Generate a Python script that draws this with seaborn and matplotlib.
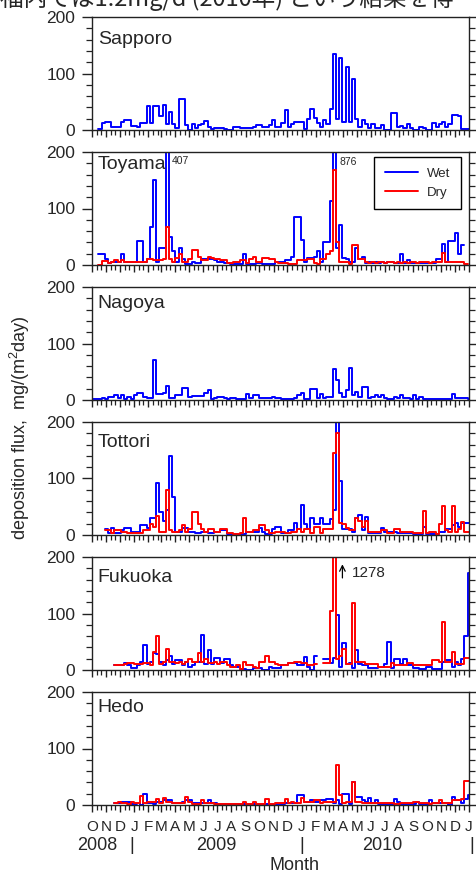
import numpy as np
import pandas as pd
import seaborn as sns
import matplotlib.pyplot as plt
import matplotlib.dates as mdates
from matplotlib.ticker import MultipleLocator, FuncFormatter
from matplotlib.lines import Line2D

nan = np.nan

# weekly deposition flux, mg/(m2 day), one value per week starting 2008-10-01
stations = ['Sapporo', 'Toyama', 'Nagoya', 'Tottori', 'Fukuoka', 'Hedo']

sapporo_wet = [nan, nan, 2, 12, 14, 14, 5, 5, 5, 14,
               17, 17, 7, 7, 5, 12, 12, 42, 12, 43,
               43, 25, 45, 10, 32, 10, 3, 55, 55, 8,
               0, 10, 3, 8, 10, 16, 5, 2, 3, 3,
               3, 1, 0, 0, 6, 6, 3, 3, 3, 3,
               5, 8, 8, 5, 5, 8, 18, 5, 5, 13,
               35, 5, 10, 15, 15, 15, 1, 20, 37, 22,
               12, 5, 17, 10, 38, 134, 20, 127, 15, 111,
               15, 91, 20, 5, 17, 10, 3, 10, 3, 3,
               8, 0, 0, 30, 30, 5, 7, 3, 10, 3,
               0, 0, 5, 3, 0, 0, 12, 5, 10, 15,
               5, 10, 26, 26, 24, 1, 1, 1]

toyama_wet = [nan, nan, 20, 20, 10, 3, 5, 5, 5, 20,
              5, 5, 5, 5, 43, 43, 5, 10, 68, 150,
              5, 30, 30, 407, 50, 25, 5, 30, 10, 2,
              2, 5, 3, 3, 10, 10, 10, 10, 8, 5,
              5, 3, 3, 2, 2, 2, 2, 20, 2, 2,
              2, 3, 3, 1, 1, 1, 1, 5, 5, 5,
              8, 8, 15, 85, 85, 45, 5, 12, 12, 15,
              25, 5, 40, 40, 113, 876, 30, 70, 12, 10,
              5, 5, 30, 10, 15, 3, 5, 3, 5, 3,
              5, 3, 5, 5, 3, 3, 20, 3, 8, 3,
              3, 3, 3, 3, 3, 3, 3, 10, 10, 37,
              5, 43, 43, 57, 20, 35, nan, nan]

toyama_dry = [nan, nan, 0, 7, 7, 3, 5, 8, 5, 8,
              5, 5, 5, 5, 5, 5, 5, 10, 10, 8,
              8, 8, 10, 68, 10, 5, 12, 20, 5, 5,
              10, 27, 27, 15, 8, 8, 15, 12, 10, 10,
              8, 8, 3, 3, 5, 5, 8, 8, 3, 10,
              15, 5, 5, 12, 12, 10, 10, 5, 3, 3,
              3, 1, 1, 1, 8, 8, 8, 10, 10, 3,
              1, 10, 10, 20, 25, 168, 40, 5, 5, 5,
              2, 35, 35, 10, 10, 5, 3, 5, 4, 6,
              5, 3, 5, 6, 4, 5, 3, 5, 4, 6,
              5, 4, 6, 5, 6, 4, 5, 5, 5, 22,
              5, 5, 5, 6, 5, 5, 2, nan]

nagoya_wet = [2, 2, 1, 3, 2, 5, 5, 8, 3, 8,
              2, 5, 2, 8, 13, 13, 5, 3, 3, 70,
              10, 10, 12, 25, 3, 3, 8, 8, 22, 22,
              5, 7, 7, 7, 7, 12, 18, 2, 3, 5,
              5, 3, 2, 3, 3, 1, 1, 1, 10, 3,
              8, 8, 3, 3, 3, 3, 5, 3, 3, 2,
              2, 2, 2, 3, 8, 13, 1, 1, 20, 20,
              3, 10, 3, 5, 5, 55, 35, 12, 5, 18,
              57, 8, 15, 5, 23, 23, 3, 5, 8, 5,
              8, 3, 1, 1, 5, 3, 8, 3, 3, 2,
              8, 2, 5, 1, 1, 1, 2, 2, 2, 2,
              2, 2, 10, 3, 3, 3, 3, 2]

tottori_wet = [nan, nan, nan, nan, 10, 3, 12, 3, 3, 8,
               13, 13, 5, 5, 5, 18, 18, 12, 30, 30,
               92, 40, 25, 45, 140, 68, 5, 5, 12, 12,
               5, 5, 3, 3, 5, 5, 3, 3, 5, 5,
               8, 8, 1, 1, 1, 1, 2, 2, 5, 5,
               5, 5, 12, 5, 2, 2, 10, 15, 15, 3,
               3, 8, 8, 22, 10, 53, 20, 10, 30, 20,
               20, 30, 20, 20, 28, 45, 210, 95, 10, 10,
               10, 5, 30, 35, 8, 32, 3, 3, 3, 3,
               12, 5, 5, 5, 5, 3, 3, 3, 3, 3,
               1, 1, 1, 15, 2, 2, 2, 2, 5, 5,
               10, 10, 17, 22, 15, 22, 22, 22]

tottori_dry = [nan, nan, nan, nan, 8, 8, 3, 8, 8, 5,
               5, 3, 3, 3, 3, 3, 8, 8, 20, 15,
               33, 5, 5, 80, 8, 5, 5, 8, 18, 5,
               10, 40, 40, 20, 10, 5, 10, 10, 5, 5,
               10, 10, 3, 3, 2, 2, 3, 30, 5, 5,
               8, 8, 18, 18, 8, 3, 3, 5, 5, 5,
               3, 3, 5, 5, 10, 5, 10, 10, 3, 15,
               15, 3, 10, 10, 10, 145, 180, 22, 20, 12,
               8, 8, 30, 25, 15, 25, 5, 5, 5, 5,
               8, 8, 3, 3, 10, 10, 5, 5, 5, 5,
               3, 3, 3, 42, 3, 5, 5, 2, 20, 52,
               8, 5, 52, 5, 10, 23, 5, 5]

fukuoka_wet = [nan, nan, nan, nan, nan, nan, nan, 8, 8, 8,
               13, 8, 3, 3, 8, 15, 45, 10, 15, 30,
               28, 15, 8, 18, 25, 10, 18, 18, 8, 15,
               5, 8, 15, 15, 62, 10, 35, 10, 22, 22,
               12, 20, 20, 8, 5, 5, 2, 2, 0, 0,
               3, 3, 3, 0, 0, 5, 3, 3, 3, 8,
               8, 12, 12, 12, 8, 8, 23, 5, 0, 25,
               nan, nan, 20, 20, 13, 22, 98, 5, 47, 10,
               12, 3, 35, 10, 8, 8, 3, 3, 3, 5,
               5, 10, 50, 3, 20, 20, 10, 20, 8, 8,
               3, 3, 2, 2, 5, 5, 2, 2, 2, 15,
               18, 18, 5, 15, 8, 20, 60, 172]

fukuoka_dry = [nan, nan, nan, nan, nan, nan, nan, 8, 8, 8,
               10, 12, 12, 10, 10, 10, 12, 12, 8, 32,
               60, 10, 15, 38, 15, 15, 12, 15, 10, 15,
               20, 15, 15, 30, 15, 20, 12, 12, 15, 10,
               15, 15, 8, 5, 5, 8, 2, 15, 8, 8,
               5, 3, 15, 15, 25, 15, 15, 10, 8, 8,
               8, 12, 12, 15, 15, 12, 12, 8, 8, 10,
               nan, nan, 12, 12, 105, 1278, 20, 25, 38, 10,
               10, 118, 15, 15, 15, 10, 10, 10, 10, 5,
               5, 5, 5, 12, 8, 8, 8, 8, 12, 12,
               8, 8, 8, 8, 8, 8, 18, 18, 15, 85,
               15, 15, 32, 10, 10, 10, 22, 22]

hedo_wet = [nan, nan, nan, nan, nan, nan, nan, 3, 3, 5,
            5, 5, 2, 2, 3, 0, 20, 3, 3, 2,
            5, 5, 8, 8, 8, 3, 3, 3, 5, 8,
            8, 3, 3, 3, 3, 3, 8, 3, 3, 2,
            2, 2, 2, 2, 1, 1, 1, 1, 1, 1,
            1, 1, 1, 1, 1, 1, 1, 1, 1, 1,
            3, 3, 3, 3, 18, 18, 5, 5, 8, 5,
            5, 8, 8, 10, 10, 3, 8, 2, 20, 20,
            2, 40, 15, 15, 8, 5, 13, 3, 8, 2,
            2, 2, 2, 2, 10, 5, 1, 1, 1, 1,
            1, 5, 1, 1, 1, 8, 3, 3, 3, 3,
            3, 0, 15, 8, 8, 3, 10, 17]

hedo_dry = [nan, nan, nan, nan, nan, nan, nan, 3, 6, 3,
            3, 2, 5, 3, 3, 16, 3, 5, 5, 5,
            10, 3, 12, 5, 5, 3, 3, 3, 3, 15,
            5, 2, 2, 2, 8, 3, 3, 3, 2, 2,
            2, 2, 1, 1, 2, 1, 1, 5, 1, 1,
            5, 2, 2, 2, 10, 2, 2, 3, 3, 3,
            10, 3, 5, 3, 3, 12, 5, 5, 5, 8,
            8, 3, 5, 5, 5, 5, 70, 18, 3, 5,
            5, 40, 5, 5, 3, 3, 3, 3, 3, 3,
            3, 3, 3, 3, 2, 2, 3, 3, 3, 3,
            5, 5, 3, 3, 3, 2, 3, 3, 8, 3,
            3, 3, 8, 8, 8, 10, 42, 42]

wet = [sapporo_wet, toyama_wet, nagoya_wet, tottori_wet, fukuoka_wet, hedo_wet]
dry = [None, toyama_dry, None, tottori_dry, fukuoka_dry, hedo_dry]

weeks = pd.date_range('2008-10-01', periods=len(sapporo_wet) + 1, freq='7D')


def step_frame(values):
    # long table with one unit per unbroken run, each run closed at the next week start
    rows = []
    seg = 0
    last = None
    for i, v in enumerate(values):
        if np.isnan(v):
            if last is not None:
                rows.append((weeks[i], last, seg))
                seg += 1
                last = None
            continue
        rows.append((weeks[i], v, seg))
        last = v
    if last is not None:
        rows.append((weeks[len(values)], last, seg))
    return pd.DataFrame(rows, columns=['date', 'flux', 'seg'])


sns.set_style('ticks')
plt.rcParams['font.family'] = ['Liberation Sans', 'Noto Sans CJK JP', 'DejaVu Sans']
plt.rcParams['mathtext.default'] = 'regular'

W, H = 476, 874
fig, axes = plt.subplots(6, 1, figsize=(W / 100, H / 100), dpi=100, sharex=True)
fig.subplots_adjust(left=92 / W, right=469 / W, top=1 - 17 / H, bottom=1 - 805 / H,
                    hspace=22 / 113)

name_y = [0.80, 0.885, 0.85, 0.82, 0.82, 0.86]
blue, red = '#0000FF', '#FF0000'

for ax, name, w, d, ny in zip(axes, stations, wet, dry, name_y):
    sns.lineplot(data=step_frame(w), x='date', y='flux', units='seg', estimator=None,
                 drawstyle='steps-post', color=blue, lw=1.4, legend=False, ax=ax)
    if d is not None:
        sns.lineplot(data=step_frame(d), x='date', y='flux', units='seg', estimator=None,
                     drawstyle='steps-post', color=red, lw=1.4, legend=False, ax=ax)
    ax.set(xlabel='', ylabel='')
    ax.set_ylim(0, 200)
    ax.set_xlim(pd.Timestamp('2008-10-01'), pd.Timestamp('2011-01-01'))
    ax.yaxis.set_major_locator(MultipleLocator(100))
    ax.yaxis.set_minor_locator(MultipleLocator(20))
    ax.tick_params(axis='y', which='both', direction='out', left=True, right=True,
                   labelsize=12.5, pad=5, color='#222222')
    ax.tick_params(axis='y', which='major', length=7, width=1)
    ax.tick_params(axis='y', which='minor', length=4, width=0.9)
    ax.tick_params(axis='x', which='both', direction='out', bottom=True, top=False,
                   color='#222222')
    ax.tick_params(axis='x', which='major', length=5, width=1, labelsize=11, pad=6)
    ax.tick_params(axis='x', which='minor', length=3.5, width=0.9)
    for sp in ax.spines.values():
        sp.set_visible(True)
        sp.set_color('#222222')
        sp.set_linewidth(1)
    ax.text(0.015, ny, name, transform=ax.transAxes, fontsize=14, va='center', ha='left')

axes[-1].xaxis.set_major_locator(mdates.MonthLocator())
axes[-1].xaxis.set_minor_locator(mdates.DayLocator(bymonthday=[11, 21]))
axes[-1].xaxis.set_major_formatter(
    FuncFormatter(lambda x, pos: mdates.num2date(x).strftime('%b')[0]))

# values beyond the scale
axes[1].text(pd.Timestamp('2009-03-24'), 184, '407', fontsize=7.5, va='center', ha='left')
axes[1].text(pd.Timestamp('2010-03-25'), 182, '876', fontsize=7.5, va='center', ha='left')
axes[4].annotate('', xy=(pd.Timestamp('2010-03-31'), 192),
                 xytext=(pd.Timestamp('2010-03-31'), 158),
                 arrowprops=dict(arrowstyle='->', color='black', lw=0.9))
axes[4].text(pd.Timestamp('2010-04-21'), 172, '1278', fontsize=11, va='center', ha='left')

handles = [Line2D([], [], color=blue, lw=1.4), Line2D([], [], color=red, lw=1.4)]
axes[1].legend(handles, ['Wet', 'Dry'], loc='upper right',
               bbox_to_anchor=(1 - 8 / 377, 1 - 5 / 113), borderaxespad=0,
               fontsize=9.5, frameon=True, fancybox=False, edgecolor='black',
               framealpha=1, handlelength=2.5, handletextpad=0.7,
               labelspacing=0.5, borderpad=0.8)

# year row and axis titles
for label, xp in [('2008', 97.5), ('|', 131.7), ('2009', 216.7), ('|', 301.7),
                  ('2010', 382), ('|', 471.7)]:
    fig.text(xp / W, 1 - 846 / H, label, fontsize=13, ha='center', va='center')
fig.text(294.7 / W, 1 - 866 / H, 'Month', fontsize=13, ha='center', va='center')
fig.text(20 / W, 1 - 428 / H, 'deposition flux,  mg/(m$^2$day)', rotation=90,
         fontsize=13, ha='center', va='center')

# clipped line of the surrounding page text
fig.text(0.0, 1 - 6 / H, '福内では1.2mg/d (2010年) という結果を得', fontsize=17,
         ha='left', va='baseline', family=['Noto Sans CJK JP', 'DejaVu Sans'])

fig.savefig('out.png', dpi=100)
